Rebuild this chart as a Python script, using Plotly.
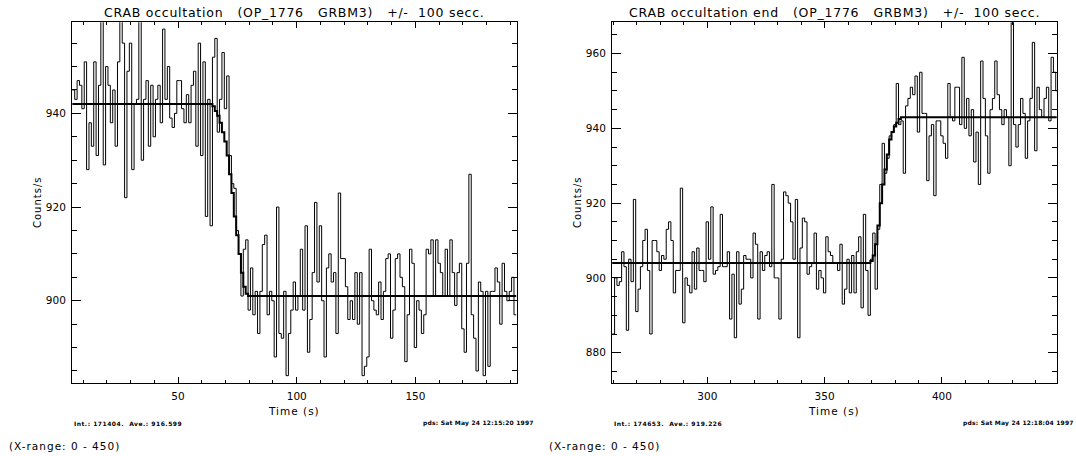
import plotly.graph_objects as go

# ---------------- data ----------------
# CRAB occultation (GRBM3): 1 s bins, counts/s
occ_t0 = 6  # centre of first bin (s)
occ_counts = [
    945, 943, 947, 946, 941, 951, 928, 938, 933, 951,
    931, 946, 962, 929, 950, 946, 938, 945, 933, 951,
    962, 955, 922, 949, 955, 928, 942, 943, 962, 930,
    943, 947, 933, 946, 935, 943, 946, 938, 958, 943,
    950, 939, 937, 940, 947, 947, 941, 938, 944, 938,
    946, 949, 933, 955, 931, 951, 918, 943, 916, 952,
    956, 936, 943, 953, 941, 948, 931, 925, 924, 915,
    910, 901, 911, 913, 898, 907, 897, 902, 893, 902,
    912, 914, 897, 902, 900, 888, 920, 893, 892, 902,
    884, 893, 898, 904, 898, 901, 911, 898, 916, 889,
    896, 906, 921, 904, 916, 900, 888, 907, 910, 904,
    906, 893, 923, 909, 909, 903, 896, 900, 896, 906,
    895, 906, 884, 886, 888, 911, 900, 898, 897, 904,
    896, 902, 909, 910, 892, 898, 909, 910, 905, 903,
    887, 897, 911, 908, 890, 900, 898, 893, 897, 911,
    910, 913, 901, 913, 908, 906, 901, 911, 901, 913,
    906, 899, 906, 908, 894, 889, 908, 927, 897, 892,
    885, 904, 902, 884, 902, 886, 902, 902, 907, 904,
    895, 908, 902, 900, 902, 905, 897,
]
occ_fit = (
    [942] * 59
    + [941.5, 940.5, 939.5, 938, 936, 934, 931, 927, 923, 918,
       914, 910, 906, 903, 901.5]
    + [901] * 113
)

# CRAB occultation end (GRBM3)
end_t0 = 260
end_counts = [
    885, 900, 898, 899, 907, 903, 886, 905, 899, 921,
    891, 897, 903, 910, 913, 902, 885, 910, 910, 907,
    902, 906, 905, 913, 915, 910, 896, 902, 902, 924,
    888, 900, 898, 896, 907, 897, 908, 902, 902, 899,
    915, 905, 919, 901, 902, 903, 917, 903, 903, 907,
    889, 901, 884, 907, 893, 897, 906, 905, 905, 900,
    912, 909, 889, 907, 902, 906, 907, 903, 925, 900,
    900, 889, 905, 923, 922, 920, 915, 905, 921, 884,
    908, 916, 915, 901, 903, 904, 912, 897, 902, 900,
    896, 911, 907, 906, 904, 904, 902, 909, 893, 897,
    905, 896, 906, 896, 907, 911, 892, 917, 902, 890,
    905, 912, 897, 913, 925, 936, 928, 932, 938, 939,
    941, 952, 941, 942, 928, 946, 948, 951, 949, 954,
    939, 955, 944, 944, 926, 938, 941, 922, 942, 942,
    938, 936, 932, 952, 943, 942, 951, 951, 941, 959,
    940, 948, 938, 945, 931, 939, 925, 958, 948, 938,
    928, 945, 948, 958, 949, 945, 941, 945, 943, 930,
    970, 941, 935, 941, 948, 944, 932, 942, 948, 963,
    934, 951, 945, 943, 948, 951, 942, 959, 955, 950,
]
end_fit = (
    [904] * 110
    + [904.5, 906, 909, 914, 920, 925, 929, 933, 937, 939,
       940.5, 941.5, 942.5]
    + [943] * 67
)

NB = "\u00a0"
occ_title = f"CRAB occultation{NB*3}(OP_1776{NB*3}GRBM3){NB*3}+/-{NB*2}100{NB}secc."
end_title = f"CRAB occultation end{NB*3}(OP_1776{NB*3}GRBM3){NB*3}+/-{NB*2}100{NB}secc."
occ_info = f"Int.: 171404.{NB*2}Ave.: 916.599"
end_info = f"Int.: 174653.{NB*2}Ave.: 919.226"
occ_stamp = "pds: Sat May 24 12:15:20 1997"
end_stamp = "pds: Sat May 24 12:18:04 1997"
xrange_note = "(X-range: 0 - 450)"

# ---------------- layout helpers ----------------
W, H = 1076, 456
FONT = "DejaVu Sans"


def px(x):
    return x / W


def py(y):
    return 1 - y / H


def step_xy(t0, values):
    """Histogram-style outline: one horizontal step per 1 s bin."""
    edges = [t0 - 0.5 + i for i in range(len(values) + 1)]
    return edges, list(values) + [values[-1]]


fig = go.Figure()

for xa, ya, t0, counts, fit in [
    ("x", "y", occ_t0, occ_counts, occ_fit),
    ("x2", "y2", end_t0, end_counts, end_fit),
]:
    xs, ys = step_xy(t0, counts)
    fig.add_trace(go.Scatter(x=xs, y=ys, mode="lines", line_shape="hv",
                             line=dict(color="black", width=1),
                             xaxis=xa, yaxis=ya, showlegend=False, hoverinfo="skip"))
    fx, fy = step_xy(t0, fit)
    fig.add_trace(go.Scatter(x=fx, y=fy, mode="lines", line_shape="hv",
                             line=dict(color="black", width=2),
                             xaxis=xa, yaxis=ya, showlegend=False, hoverinfo="skip"))


def xaxis_style(domain, rng, anchor):
    return dict(domain=domain, range=rng, autorange=False, anchor=anchor,
                showline=True, linecolor="black", linewidth=1, mirror="allticks",
                ticks="inside", ticklen=6, tickwidth=1, tickcolor="black",
                tick0=0, dtick=50, showgrid=False, zeroline=False,
                ticklabelstandoff=4,
                tickfont=dict(family=FONT, size=10.5, color="black"),
                minor=dict(ticks="inside", ticklen=3, dtick=10, tick0=0,
                           tickcolor="black", showgrid=False))


def yaxis_style(domain, rng, anchor):
    return dict(domain=domain, range=rng, autorange=False, anchor=anchor,
                showline=True, linecolor="black", linewidth=1, mirror="allticks",
                ticks="inside", ticklen=9, tickwidth=1, tickcolor="black",
                tick0=0, dtick=20, showgrid=False, zeroline=False,
                ticklabelstandoff=3,
                tickfont=dict(family=FONT, size=10.5, color="black"),
                minor=dict(ticks="inside", ticklen=5, dtick=5, tick0=0,
                           tickcolor="black", showgrid=False))


ydom = [py(382.7), py(22.3)]
fig.update_layout(
    width=W, height=H,
    margin=dict(l=0, r=0, t=0, b=0),
    paper_bgcolor="white", plot_bgcolor="white",
    xaxis=xaxis_style([px(72), px(516.7)], [5.35, 192.65], "y"),
    yaxis=yaxis_style(ydom, [882.5, 959.45], "x"),
    xaxis2=xaxis_style([px(612), px(1056.7)], [259.4, 448.9], "y2"),
    yaxis2=yaxis_style(ydom, [871.98, 968.36], "x2"),
)

ann = []


def text(x, y, s, size, xanchor="center", yanchor="middle", angle=0,
         bold=False, spacing=0.0):
    body = f"<b>{s}</b>" if bold else s
    if spacing:
        body = f'<span style="letter-spacing:{spacing}px">{body}</span>'
    ann.append(dict(x=px(x), y=py(y), xref="paper", yref="paper", text=body,
                    showarrow=False, xanchor=xanchor, yanchor=yanchor, textangle=angle,
                    font=dict(family=FONT, size=size, color="black")))


for left, right, title, info, stamp in [
    (72, 516.7, occ_title, occ_info, occ_stamp),
    (612, 1056.7, end_title, end_info, end_stamp),
]:
    mid = (left + right) / 2
    text(mid, 12.3, title, 12.5, spacing=0.75)
    text(mid, 410.5, f"Time{NB}(s)", 10.5, spacing=1.0)
    text(left - 34, 202, "Counts/s", 10, angle=-90, spacing=1.0)
    text(left, 423, info, 6, xanchor="left", bold=True, spacing=0.5)
    text(right + 19.5, 423, stamp, 6, xanchor="right", bold=True, spacing=0.2)
    text(left - 65, 446, xrange_note, 10.5, xanchor="left", spacing=1.0)

fig.update_layout(annotations=ann)
fig.write_html("out.html")
